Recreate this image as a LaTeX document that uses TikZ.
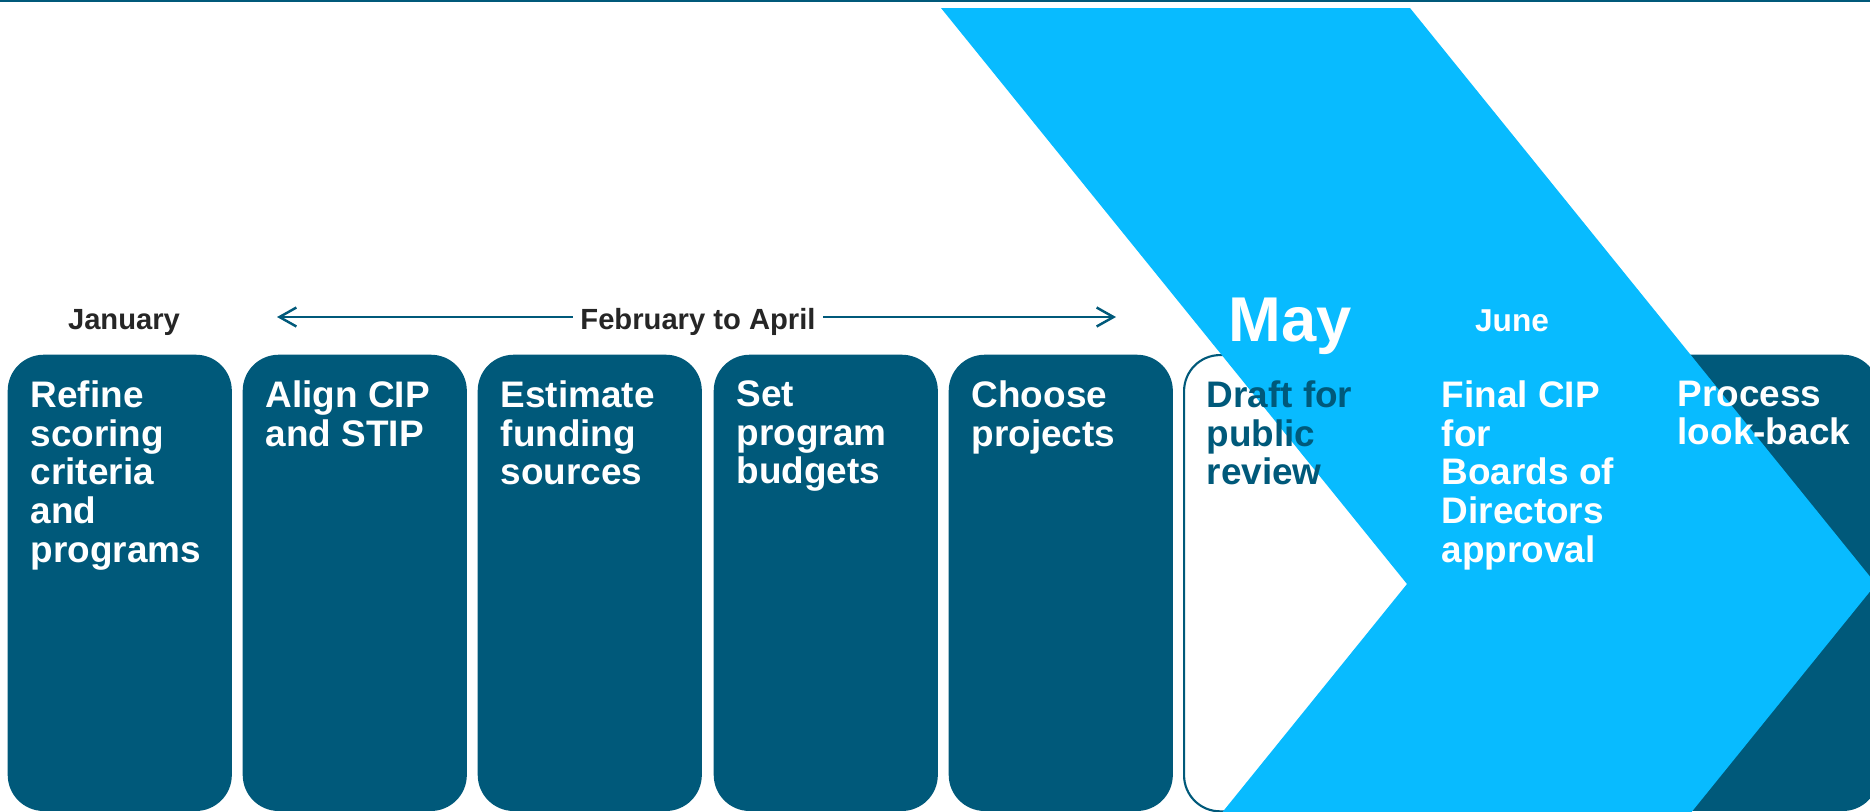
\documentclass[tikz,border=0pt]{standalone}
\usepackage{fontspec}
\setmainfont{Liberation Sans}
\usetikzlibrary{arrows.meta}
\definecolor{cipdark}{RGB}{0,89,122}
\definecolor{cipblue}{RGB}{8,187,255}
\definecolor{monthgray}{RGB}{38,38,38}

\begin{document}
\begin{tikzpicture}[x=0.01cm, y=-0.01cm,
    stage/.style={anchor=north west, minimum width=2.24cm, minimum height=4.56cm,
      inner sep=0pt, rounded corners=0.36cm, fill=cipdark},
    stagetext/.style={anchor=north west, inner sep=0pt, align=left, text=white,
      font=\fontsize{10.5}{11}\selectfont\bfseries},
    month/.style={inner sep=0pt, text=monthgray, font=\fontsize{8.3}{10}\selectfont\bfseries},
    span/.style={cipdark, line width=0.7pt, -{Straight Barb[length=4.8pt,width=5.4pt]}}]
    \useasboundingbox (0,0) rectangle (1870,811);
    \clip (0,0) rectangle (1870,811);

    % rule along the top
    \draw[cipdark, line width=0.7pt] (0,1) -- (1870,1);

    % step boxes
    \node[stage] (b1) at (7,354) {};
    \node[stage] (b2) at (242,354) {};
    \node[stage] (b3) at (477,354) {};
    \node[stage] (b4) at (713,354) {};
    \node[stage] (b5) at (948,354) {};
    \node[stage, fill=white, draw=cipdark, line width=0.6pt] (b6) at (1183,354) {};
    \coordinate (b7) at (1418,354);
    \node[stage] (b8) at (1654,354) {};

    % chevron for May and June
    \fill[cipblue] (941,8) -- (1410,8) -- (1876,584) -- (1410,1160)
      -- (941,1160) -- (1407,584) -- cycle;

    % months
    \node[month, anchor=base] (jan) at (124,329) {January};
    \node[month, anchor=base] (feb) at (698,329) {February to April};
    \coordinate (febL) at (277,317);
    \coordinate (febR) at (1116,317);
    \draw[span] ([xshift=-2pt]feb.west |- febL) -- (febL);
    \draw[span] ([xshift=2pt]feb.east |- febR) -- (febR);
    \node[anchor=base west, inner sep=0pt, text=white,
      font=\fontsize{18}{20}\selectfont\bfseries] (may) at (1228,341) {May};
    \node[month, anchor=base, text=white, font=\fontsize{9}{10}\selectfont\bfseries]
      (jun) at (1512,331) {June};

    % step texts
    \node[stagetext] (t1) at ([shift={(23,26)}]b1.north west) {Refine\\scoring\\criteria\\and\\programs};
    \node[stagetext] (t2) at ([shift={(23,26)}]b2.north west) {Align CIP\\and STIP};
    \node[stagetext] (t3) at ([shift={(23,26)}]b3.north west) {Estimate\\funding\\sources};
    \node[stagetext] (t4) at ([shift={(23,26)}]b4.north west) {Set\\program\\budgets};
    \node[stagetext] (t5) at ([shift={(23,26)}]b5.north west) {Choose\\projects};
    \node[stagetext, text=cipdark] (t6) at ([shift={(23,26)}]b6.north west) {Draft for\\public\\review};
    \node[stagetext] (t7) at ([shift={(23,26)}]b7) {Final CIP\\for\\Boards of\\Directors\\approval};
    \node[stagetext] (t8) at ([shift={(23,26)}]b8.north west) {Process\\look-back};
\end{tikzpicture}
\end{document}
